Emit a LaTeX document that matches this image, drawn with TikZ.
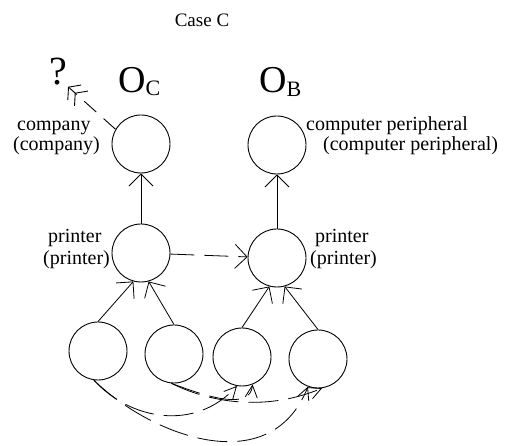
\documentclass[tikz,border=0pt]{standalone}
\usepackage{fontspec}
\setmainfont{Liberation Serif}
\usetikzlibrary{arrows.meta}
\tikzset{
  circ/.style={draw, circle, minimum size=58pt, inner sep=0pt, line width=0.9pt},
  conn/.style={line width=0.8pt, -{Straight Barb[length=12pt,width=24pt,line width=0.8pt]}},
  dconn/.style={conn, dash pattern=on 24pt off 10pt},
  cconn/.style={line width=0.8pt, dash pattern=on 30pt off 10pt, -{Straight Barb[length=12pt,width=12pt,line width=0.8pt]}},
  qconn/.style={line width=0.9pt, dash pattern=on 16pt off 10pt, -{Straight Barb[length=8pt,width=20pt,line width=0.9pt] Straight Barb[length=8pt,width=20pt,line width=0.9pt]}},
  lbl/.style={font=\fontsize{20}{22}\selectfont, inner sep=0pt, anchor=base west},
  big/.style={font=\fontsize{38}{40}\selectfont, inner sep=0pt, anchor=base west},
}
\begin{document}
\begin{tikzpicture}[x=1pt,y=-1pt]
\useasboundingbox (0,0) rectangle (507,446);
\fill[white] (0,0) rectangle (507,446);

% title
\node[font=\fontsize{19}{21}\selectfont, inner sep=0pt, anchor=base] (title) at (202,27) {Case C};

% ontology labels
\node[big] (oc) at (118,93) {O\raisebox{-3pt}{\fontsize{22}{24}\selectfont C}};
\node[big] (ob) at (259,93) {O\raisebox{-4pt}{\fontsize{22}{24}\selectfont B}};
\node[font=\fontsize{40}{42}\selectfont, inner sep=1pt, anchor=base] (q) at (58,85) {?};

% circles
\node[circ] (c1) at (141,144) {};
\node[circ] (b1) at (277,145) {};
\node[circ] (c2) at (141,253) {};
\node[circ] (b2) at (277,258) {};
\node[circ] (l1) at (98,351) {};
\node[circ] (l2) at (174,354) {};
\node[circ] (r1) at (242,357) {};
\node[circ] (r2) at (318,359) {};

% labels
\node[lbl] (tc1a) at (17,131) {company};
\node[lbl] (tc1b) at (13,151) {(company)};
\node[lbl] (tb1a) at (306,131) {computer peripheral};
\node[lbl] (tb1b) at (323,151) {(computer peripheral)};
\node[lbl] (tc2a) at (48,243) {printer};
\node[lbl] (tc2b) at (43,265) {(printer)};
\node[lbl] (tb2a) at (315,243) {printer};
\node[lbl] (tb2b) at (310,265) {(printer)};

% connectors
\draw[conn] (c2) -- (c1);
\draw[conn] (b2) -- (b1);
\draw[dconn] (c2) -- (b2);
\draw[qconn] (c1.150) -- (q.south east);
\draw[conn] (l1.north) -- (c2.255);
\draw[conn] (l2.north) -- (c2.285);
\draw[conn] (r1.north) -- (b2.255);
\draw[conn] (r2.north) -- (b2.285);

% curved dashed connectors
\draw[cconn] (l1.262) .. controls (130,420) and (195,432) .. (r1.260);
\draw[cconn] (l1.262) .. controls (150,435) and (270,482) .. (r2.250);
\draw[cconn] (l2.265) .. controls (210,398) and (250,410) .. (r1.291);
\draw[cconn] (l2.265) .. controls (215,405) and (270,410) .. (r2.278);
\end{tikzpicture}
\end{document}
